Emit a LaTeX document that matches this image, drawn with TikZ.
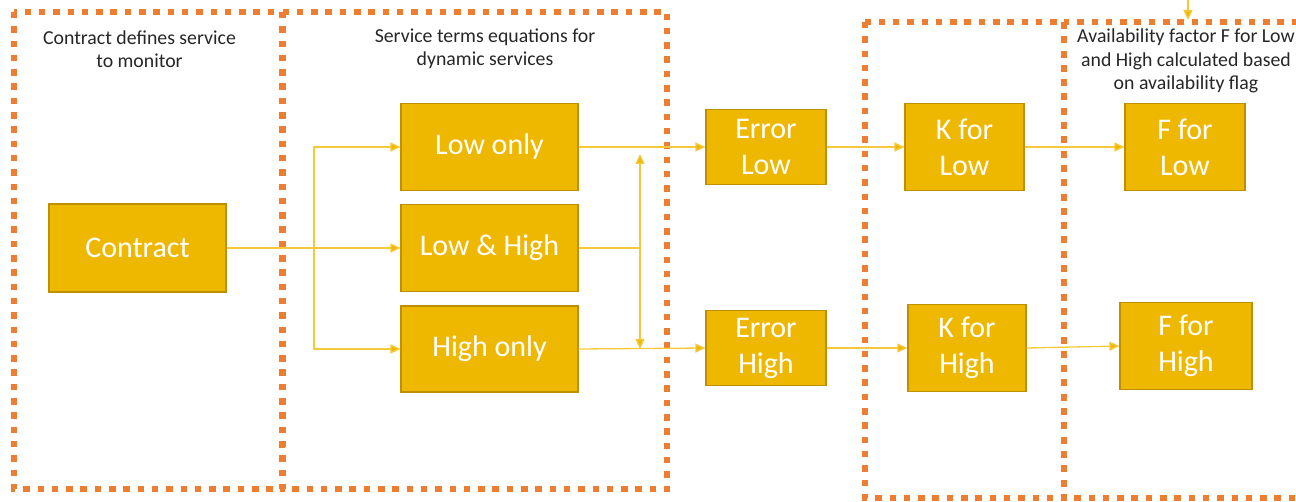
\documentclass[tikz,border=0pt]{standalone}
\usepackage{fontspec}
\setmainfont{Carlito}
\usetikzlibrary{arrows.meta}
\definecolor{boxfill}{RGB}{239,184,0}
\definecolor{boxline}{RGB}{188,144,0}
\definecolor{conn}{RGB}{246,200,60}
\definecolor{zone}{RGB}{237,125,49}
\begin{document}
\begin{tikzpicture}[x=1pt,y=-1pt,
  box/.style={draw=boxline,line width=1.2pt,fill=boxfill,text=white,align=center,
    inner sep=0pt,font=\fontsize{30}{36}\selectfont},
  conline/.style={draw=conn,line width=1.3pt},
  conarrow/.style={conline,-{Triangle[length=10pt,width=9pt,fill=boxfill]}},
  zonebox/.style={draw=zone,line width=6pt,dash pattern=on 6.5pt off 7.8pt},
  header/.style={align=center,text=black!85,font=\fontsize{19.8}{23.5}\selectfont,inner sep=0pt}]
\useasboundingbox (0,0) rectangle (1296,502);
\begin{scope}
\clip (0,0) rectangle (1296,502);
\draw[zonebox] (14,12) rectangle (282,489);
\draw[zonebox] (283,12) rectangle (667,489);
\draw[zonebox] (865,22) rectangle (1064,498);
\draw[zonebox] (1064,22) rectangle (1320,498);
\end{scope}
% headers
\node[header] (h1) at (139.5,49) {Contract defines service\\to monitor};
\node[header] (h2) at (485,49) {Service terms equations for\\dynamic services};
\node[header] (h3) at (1186,61) {Availability factor F for Low\\and High calculated based\\on availability flag};
% boxes
\node[box,minimum width=177pt,minimum height=88pt] (contract) at (137.5,248) {Contract};
\node[box,minimum width=177pt,minimum height=87pt] (low) at (489.5,147) {Low only};
\node[box,minimum width=177pt,minimum height=87pt] (lowhigh) at (489.5,248) {Low \& High};
\node[box,minimum width=177pt,minimum height=86pt] (high) at (489.5,349) {High only};
\node[box,minimum width=120pt,minimum height=75pt] (errlow) at (766,147) {Error\\Low};
\node[box,minimum width=120pt,minimum height=75pt] (errhigh) at (766,348) {Error\\High};
\node[box,minimum width=119pt,minimum height=87pt] (klow) at (964.5,147) {K for\\Low};
\node[box,minimum width=118pt,minimum height=87pt] (khigh) at (967,348) {K for\\High};
\node[box,minimum width=120pt,minimum height=87pt] (flow) at (1185,147) {F for\\Low};
\node[box,minimum width=132pt,minimum height=87pt] (fhigh) at (1186,346) {F for\\High};
% coordinates
\coordinate (split) at (314,248);
\coordinate (mjoin) at (640,248);
\coordinate (mtop) at (640,154);
\coordinate (mbot) at (640,349);
\coordinate (topin) at (1188,-2);
\coordinate (topend) at (1188,20);
% connectors
\draw[conline] (contract.east) -- (split);
\draw[conarrow] (split) |- (low.west);
\draw[conarrow] (split) |- (lowhigh.west);
\draw[conarrow] (split) |- (high.west);
\draw[conarrow] (low.east) -- (errlow.west);
\draw[conarrow] (high.east) -- (errhigh.west);
\draw[conline] (lowhigh.east) -- (mjoin);
\draw[conline,{Triangle[length=10pt,width=9pt,fill=boxfill]}-{Triangle[length=10pt,width=9pt,fill=boxfill]}] (mtop) -- (mbot);
\draw[conarrow] (errlow.east) -- (klow.west);
\draw[conarrow] (errhigh.east) -- (khigh.west);
\draw[conarrow] (klow.east) -- (flow.west);
\draw[conarrow] (khigh.east) -- (fhigh.west);
\draw[conarrow] (topin) -- (topend);
\end{tikzpicture}
\end{document}
